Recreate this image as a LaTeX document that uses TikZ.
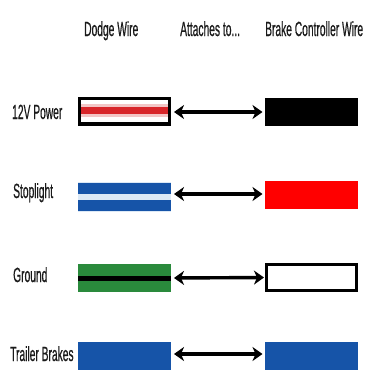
\documentclass[tikz,border=0pt]{standalone}
\usepackage{fontspec}
\newfontfamily\lblfont{Liberation Sans}[UprightFeatures={FakeBold=0.8}]
\usetikzlibrary{arrows.meta}
\definecolor{txt}{HTML}{1A1A1A}
\definecolor{wblue}{HTML}{1654A8}
\definecolor{wlight}{HTML}{DCE9F6}
\definecolor{wgreen}{HTML}{2A8A3C}
\definecolor{wred}{HTML}{FF0000}
\definecolor{stripered}{HTML}{D8262A}
\definecolor{stripepink}{HTML}{F3C6C6}
\newcommand\lbltext[1]{\scalebox{0.5}[1]{\lblfont\fontsize{20.5}{24}\selectfont #1}}
\tikzset{
  lbl/.style={text=txt, inner sep=0pt, anchor=base west},
  wire/.style={rectangle, inner sep=0pt, outer sep=0pt, minimum width=93pt, minimum height=29pt},
  conn/.style={line width=3.4pt, {Stealth[length=10pt,width=14pt,inset=3pt]}-{Stealth[length=10pt,width=14pt,inset=3pt]}, shorten <=3pt, shorten >=2.5pt}
}
\begin{document}
\begin{tikzpicture}[x=1pt,y=-1pt]
\useasboundingbox (0,0) rectangle (365,370);
\fill[white] (0,0) rectangle (365,370);

% headers
\node[lbl] (h1) at (84,36) {\lbltext{Dodge Wire}};
\node[lbl] (h2) at (180,36) {\lbltext{Attaches to...}};
\node[lbl] (h3) at (265,36) {\lbltext{Brake Controller Wire}};

% row labels
\node[lbl] (l1) at (12,119) {\lbltext{12V Power}};
\node[lbl] (l2) at (13,198) {\lbltext{Stoplight}};
\node[lbl] (l3) at (13,282) {\lbltext{Ground}};
\node[lbl] (l4) at (10,361) {\lbltext{Trailer Brakes}};

% row 1: 12V Power
\node[wire, fill=black] (d1) at (124.5,111.5) {};
\fill[white] (81,100) rectangle (168,122);
\fill[stripepink] (81,104) rectangle (168,117);
\fill[stripered] (81,107) rectangle (168,114);
\node[wire, fill=black, minimum height=28pt] (b1) at (311.5,112) {};
\draw[conn] (d1.east |- b1.west) -- (b1.west);

% row 2: Stoplight
\node[wire, fill=wlight, minimum height=30pt] (d2) at (124.5,197) {};
\fill[wblue] (78,183) rectangle (171,193.5);
\fill[wblue] (78,199.5) rectangle (171,210.5);
\node[wire, fill=wred, minimum height=28pt] (b2) at (311.5,195) {};
\draw[conn] ([yshift=1pt]d2.east |- b2.west) -- ([yshift=1pt]b2.west);

% row 3: Ground
\node[wire, fill=wgreen, minimum height=28pt] (d3) at (124.5,278) {};
\fill[black] (78,275.5) rectangle (171,280.5);
\node[wire, fill=white, draw=black, line width=3pt, minimum width=90pt, minimum height=26pt] (b3) at (311.5,277.5) {};
\draw[conn] (d3.east) -- (b3.west);

% row 4: Trailer Brakes
\node[wire, fill=wblue, minimum height=30pt] (d4) at (124.5,357) {};
\node[wire, fill=wblue, minimum height=30pt] (b4) at (311.5,357) {};
\draw[conn] ([yshift=3pt]d4.east) -- ([yshift=3pt]b4.west);
\end{tikzpicture}
\end{document}
